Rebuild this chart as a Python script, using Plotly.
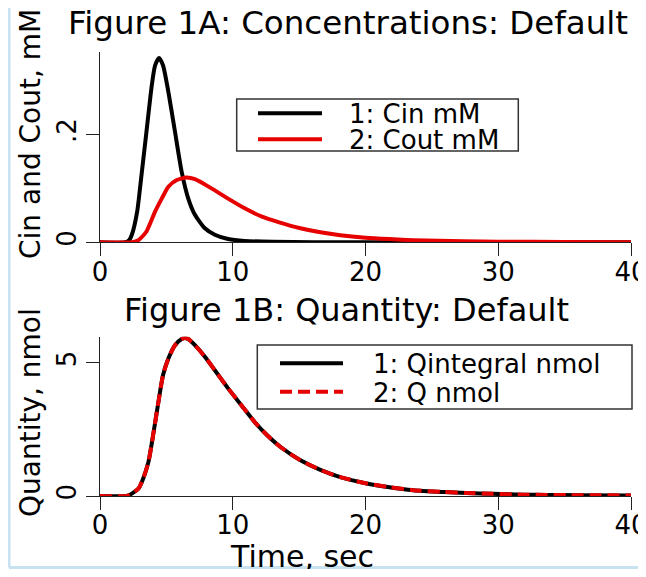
import plotly.graph_objects as go

# ---- data ----
t_cin = [0, 1.9, 2.2, 2.4, 2.8, 3.1, 3.5, 3.9, 4.15, 4.45, 4.75, 5.15, 5.65, 6.15, 6.65,
         7.15, 7.9, 8.65, 9.65, 10.9, 13, 16, 20, 40]
cin = [0, 0, 0.004, 0.014, 0.057, 0.119, 0.205, 0.291, 0.328, 0.342, 0.328, 0.279, 0.205,
       0.131, 0.081, 0.051, 0.026, 0.014, 0.006, 0.0025, 0.001, 0.0003, 0, 0]

t_cout = [0, 2.4, 2.9, 3.5, 4.15, 4.65, 5.15, 5.75, 6.5, 7.15, 8.4, 9.65, 10.9, 12.15,
          13.5, 15.1, 16.6, 18.1, 20, 21.8, 23.6, 27.4, 30, 35, 40]
cout = [0, 0, 0.004, 0.02, 0.057, 0.081, 0.103, 0.115, 0.12, 0.117, 0.1, 0.081, 0.063,
        0.048, 0.037, 0.026, 0.0185, 0.013, 0.0085, 0.006, 0.004, 0.002, 0.0012, 0.0005, 0.0003]

t_q = [0, 2.0, 2.4, 2.9, 3.25, 3.65, 4.0, 4.4, 4.75, 5.15, 5.65, 6.15, 6.4, 6.65, 7.15,
       7.9, 8.65, 9.65, 10.65, 11.65, 12.65, 13.65, 15.1, 16.6, 18.1, 20, 21.8, 23.6,
       25.9, 27.6, 29.6, 31.9, 33.7, 36, 40]
qintegral = [0, 0, 0.09, 0.28, 0.65, 1.28, 2.28, 3.53, 4.54, 5.16, 5.66, 5.89, 5.93, 5.89,
             5.66, 5.23, 4.72, 4.04, 3.41, 2.78, 2.25, 1.82, 1.34, 0.98, 0.71, 0.48, 0.33,
             0.22, 0.15, 0.11, 0.08, 0.05, 0.04, 0.03, 0.02]
q = [0, 0, 0.09, 0.28, 0.65, 1.28, 2.28, 3.53, 4.54, 5.16, 5.66, 5.89, 5.93, 5.89,
     5.66, 5.23, 4.72, 4.04, 3.41, 2.78, 2.25, 1.82, 1.34, 0.98, 0.71, 0.48, 0.33,
     0.22, 0.15, 0.11, 0.08, 0.05, 0.04, 0.03, 0.02]

x_ticks = [0, 10, 20, 30, 40]
x_ticktext = ["0", "10", "20", "30", "40"]
ya_ticks = [0, 0.2]
ya_ticktext = ["0", ".2"]
yb_ticks = [0, 5]
yb_ticktext = ["0", "5"]

names_a = ["1: Cin mM", "2: Cout mM"]
names_b = ["1: Qintegral nmol", "2: Q nmol"]

FONT = "DejaVu Sans"
RED = "#e60000"
DASH = "12px,6px"
OFF = 8                      # page body margin of the HTML page
W, H = 646 - OFF, 577 - 2 * OFF
L, R, T, B = 100 - OFF, W - (631 - OFF), 52 - OFF, H - (496 - OFF)

fig = go.Figure()
fig.add_trace(go.Scatter(x=t_cin, y=cin, name=names_a[0], mode="lines", showlegend=False,
                         line=dict(color="black", width=4, shape="spline", smoothing=0.6),
                         xaxis="x", yaxis="y"))
fig.add_trace(go.Scatter(x=t_cout, y=cout, name=names_a[1], mode="lines", showlegend=False,
                         line=dict(color=RED, width=4, shape="spline", smoothing=0.6),
                         xaxis="x", yaxis="y"))
fig.add_trace(go.Scatter(x=t_q, y=qintegral, name=names_b[0], mode="lines", showlegend=False,
                         line=dict(color="black", width=4, shape="spline", smoothing=0.6),
                         xaxis="x2", yaxis="y2"))
fig.add_trace(go.Scatter(x=t_q, y=q, name=names_b[1], mode="lines", showlegend=False,
                         line=dict(color=RED, width=4, dash=DASH, shape="spline", smoothing=0.6),
                         xaxis="x2", yaxis="y2"))

ph = H - T - B
pw = W - L - R
def py(pix):  # reference pixel y -> paper y
    return (H - B - (pix - OFF)) / ph
def px(pix):  # reference pixel x -> paper x
    return ((pix - OFF) - L) / pw

axis_common = dict(showline=True, linecolor="#222", linewidth=1, ticks="outside",
                   ticklen=13, tickcolor="#222", tickwidth=1, showgrid=False,
                   zeroline=False, automargin=False, ticklabeloverflow="allow",
                   tickfont=dict(family=FONT, size=26, color="black"))
x_extra = dict(ticklabelstandoff=-7)

fig.update_layout(
    width=W, height=H,
    margin=dict(l=L, r=R, t=T, b=B, autoexpand=False),
    paper_bgcolor="white", plot_bgcolor="white",
    font=dict(family=FONT, color="black"),
    showlegend=False,
    xaxis=dict(domain=[0, 1], range=[0, 40], anchor="y", tickvals=x_ticks,
               ticktext=x_ticktext, **axis_common, **x_extra),
    yaxis=dict(domain=[py(242.3), 1], range=[0, 0.353], anchor="x", tickvals=ya_ticks,
               ticktext=ya_ticktext, tickangle=-90, **axis_common),
    xaxis2=dict(domain=[0, 1], range=[0, 40], anchor="y2", tickvals=x_ticks,
                ticktext=x_ticktext, **axis_common, **x_extra),
    yaxis2=dict(domain=[0, py(336.7)], range=[0, 5.98], anchor="x2", tickvals=yb_ticks,
                ticktext=yb_ticktext, tickangle=-90, **axis_common),
)

annotations = [
    dict(text="Figure 1A: Concentrations: Default", x=px(348), y=py(23), size=32.5),
    dict(text="Figure 1B: Quantity: Default", x=px(346), y=py(310), size=32),
    dict(text="Cin and Cout, mM", x=px(30), y=py(134), textangle=-90, size=28),
    dict(text="Quantity, nmol", x=px(30), y=py(413), textangle=-90, size=28),
    dict(text="Time, sec", x=px(302), y=py(556), size=30),
]
ann = []
for a in annotations:
    size = a.pop("size")
    a.update(xref="paper", yref="paper", showarrow=False, xanchor="center",
             yanchor="middle", font=dict(family=FONT, color="black", size=size))
    ann.append(a)

# legend boxes (drawn per panel)
legends = [
    dict(box=(236.7, 99, 518.3, 151), lx=(258, 322), ys=(113.3, 139.3), tx=347,
         names=names_a, colors=["black", RED], dashes=["solid", "solid"]),
    dict(box=(257.3, 345, 632, 409), lx=(280, 343), ys=(363.3, 391.7), tx=371,
         names=names_b, colors=["black", RED], dashes=["solid", DASH]),
]
for lg in legends:
    x0, y0, x1, y1 = lg["box"]
    fig.add_shape(type="rect", xref="paper", yref="paper", x0=px(x0), x1=px(x1),
                  y0=py(y0), y1=py(y1), fillcolor="white",
                  line=dict(color="#333", width=1.5), layer="above")
    for nm, yy, col, ds in zip(lg["names"], lg["ys"], lg["colors"], lg["dashes"]):
        fig.add_shape(type="line", xref="paper", yref="paper", x0=px(lg["lx"][0]),
                      x1=px(lg["lx"][1]), y0=py(yy), y1=py(yy),
                      line=dict(color=col, width=4, dash=ds), layer="above")
        ann.append(dict(text=nm, x=px(lg["tx"]), y=py(yy + 1), xref="paper", yref="paper",
                        showarrow=False, xanchor="left", yanchor="middle",
                        font=dict(family=FONT, color="black", size=26)))

fig.update_layout(annotations=ann)

# light blue panel edges (left and bottom)
bottom_px = OFF + H - 1.5
fig.add_shape(type="line", xref="paper", yref="paper", x0=px(9), x1=px(9), y0=py(0),
              y1=py(bottom_px), line=dict(color="#c9e2f2", width=3))
fig.add_shape(type="line", xref="paper", yref="paper", x0=px(9), x1=px(646), y0=py(bottom_px),
              y1=py(bottom_px), line=dict(color="#c9e2f2", width=3))

fig.write_html("out.html")
